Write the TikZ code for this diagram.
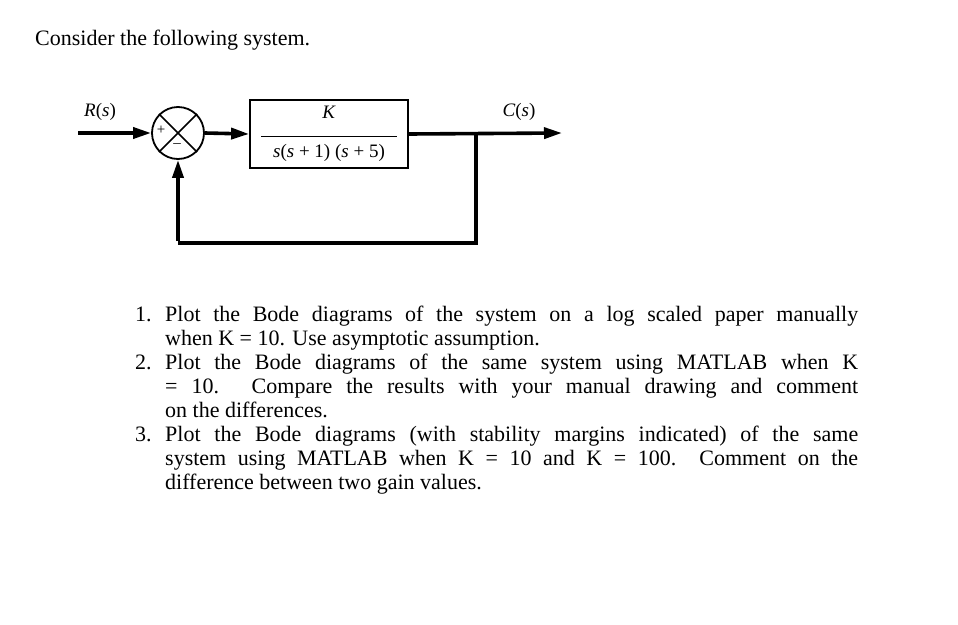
\documentclass[tikz,border=0pt]{standalone}
\usepackage{fontspec}
\setmainfont{Liberation Serif}
\usetikzlibrary{arrows.meta}
\begin{document}
\begin{tikzpicture}[x=1pt,y=-1pt,
  sig/.style={line width=3.6pt,-{Triangle[length=18pt,width=11pt]}},
  wire/.style={line width=3.6pt}]
\useasboundingbox (0,0) rectangle (958,624);
\node[anchor=base west,font=\fontsize{22}{24}\selectfont,inner sep=0] (title) at (35,45) {Consider the following system.};
\node[draw,circle,line width=1.8pt,minimum size=52pt,inner sep=0] (sum) at (178,133) {};
\draw[line width=1.5pt] (sum.north west) -- (sum.south east) (sum.north east) -- (sum.south west);
\node[font=\fontsize{15}{15}\selectfont,inner sep=0] (plus) at (161,130) {+};
\node[font=\fontsize{15}{15}\selectfont,inner sep=0] (minus) at (177,146) {–};
\node[draw,line width=1.8pt,minimum width=158pt,minimum height=68pt,inner sep=0,align=center,font=\fontsize{19}{19}\selectfont] (G) at (329,134) {\textit{K}\\[-1pt]\rule{136pt}{0.9pt}\\[2pt]\textit{s}(\textit{s} + 1) (\textit{s} + 5)};
\coordinate (in) at (78,133);
\coordinate (out) at (562,133);
\coordinate (br) at (476,133);
\coordinate (bl) at (476,243);
\coordinate (fl) at (178,243);
\draw[sig] (in) -- (sum.west);
\draw[sig] (sum.east) -- (G.west);
\draw[sig] (G.east) -- (out);
\draw[wire] (br) -- (bl) -- (fl);
\draw[sig] ([yshift=1.8pt]fl) -- (sum.south);
\node[font=\fontsize{19}{19}\selectfont,inner sep=0] (R) at (100,112) {\textit{R}(\textit{s})};
\node[font=\fontsize{19}{19}\selectfont,inner sep=0] (C) at (519,112) {\textit{C}(\textit{s})};
\node[anchor=north west,inner sep=0,text width=723pt,align=justify,font=\fontsize{22}{24}\selectfont] (list) at (135,306) {%
\hangindent=30pt\hangafter=1\noindent\makebox[30pt][l]{1.}Plot the Bode diagrams of the system on a log scaled paper manually\linebreak when K = 10. Use asymptotic assumption.\par
\hangindent=30pt\hangafter=1\noindent\makebox[30pt][l]{2.}Plot the Bode diagrams of the same system using MATLAB when K\linebreak = 10. Compare the results with your manual drawing and comment\linebreak on the differences.\par
\hangindent=30pt\hangafter=1\noindent\makebox[30pt][l]{3.}Plot the Bode diagrams (with stability margins indicated) of the same\linebreak system using MATLAB when K = 10 and K = 100.\ \ Comment on the\linebreak difference between two gain values.\par};
\end{tikzpicture}
\end{document}
